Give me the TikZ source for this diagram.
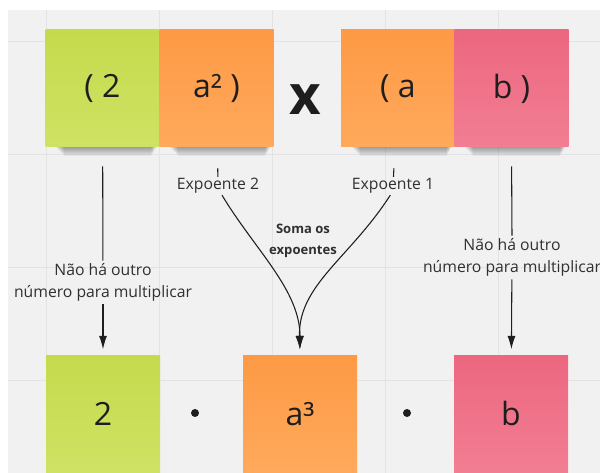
\documentclass[tikz,border=0pt]{standalone}
\usepackage{fontspec}
\setmainfont{Open Sans}
\usetikzlibrary{arrows.meta}
\definecolor{board}{HTML}{F1F1F1}
\definecolor{gridline}{HTML}{E3E3E3}
\definecolor{ink}{HTML}{1E1E1E}
\definecolor{labelink}{HTML}{303030}
\definecolor{greenA}{HTML}{C5DB4C}
\definecolor{greenB}{HTML}{CFE264}
\definecolor{orangeA}{HTML}{FD9A45}
\definecolor{orangeB}{HTML}{FFA95C}
\definecolor{pinkA}{HTML}{EC6780}
\definecolor{pinkB}{HTML}{F27E93}
\tikzset{
  note/.style={minimum width=85.5pt, minimum height=87.75pt, inner sep=0pt,
    text=ink, font=\fontsize{24}{28}\selectfont},
  greennote/.style={note, top color=greenA, bottom color=greenB},
  orangenote/.style={note, top color=orangeA, bottom color=orangeB},
  pinknote/.style={note, top color=pinkA, bottom color=pinkB},
  lbl/.style={align=center, text=labelink, inner sep=2pt,
    font=\fontsize{11.8}{16.5}\selectfont},
  link/.style={line width=0.8pt, ink},
  arrow/.style={link, -{Latex[length=10pt,width=6pt]}},
  dot/.style={circle, fill=ink, minimum size=6pt, inner sep=0pt}
}

\begin{document}
\begin{tikzpicture}[x=0.75pt,y=-0.75pt]
  \useasboundingbox (0,0) rectangle (600,473);
  \fill[white] (0,0) rectangle (600,473);
  \fill[board] (8,10) rectangle (600,473);
  \foreach \gx in {46,159,272,385,498}
    \draw[gridline, line width=0.75pt] (\gx,10) -- (\gx,473);
  \foreach \gy in {42,155,268,381}
    \draw[gridline, line width=0.75pt] (8,\gy) -- (600,\gy);

  \node[greennote] (n2) at (102.5,88.5) {( 2};
  \node[orangenote] (na2) at (216.5,88.5) {a² )};
  \node[text=ink, font=\fontsize{41}{41}\bfseries] (times) at (305,100) {x};
  \node[orangenote] (na) at (398,88.5) {( a};
  \node[pinknote] (nb) at (511.5,88.5) {b )};
  \foreach \n in {n2,na2,na,nb}
    \foreach \k in {1,...,9}
      \fill[black, opacity=0.045] ([shift={(10+\k,0)}]\n.south west) rectangle ([shift={(-3-0.6*\k,\k)}]\n.south east);

  \node[greennote] (r2) at (103,414) {2};
  \node[orangenote] (ra3) at (300,414) {a³};
  \node[pinknote] (rb) at (511,414) {b};
  \node[dot] (d1) at (195,413) {};
  \node[dot] (d2) at (407,413) {};

  \node[lbl] (lblL) at (103,282.5) {Não há outro\\número para multiplicar};
  \node[lbl] (lblR) at (512,257.5) {Não há outro\\número para multiplicar};
  \node[lbl, inner sep=1pt] (exp2) at (218,186) {Expoente 2};
  \node[lbl, inner sep=1pt] (exp1) at (393,186) {Expoente 1};
  \node[lbl, font=\fontsize{9.8}{15.75}\bfseries] (soma) at (303,240.5) {Soma os\\expoentes};

  \draw[link, shorten <=14.25pt] (n2) -- (lblL);
  \draw[arrow, shorten >=4.5pt] (lblL) -- (r2);
  \draw[link, shorten <=14.25pt] (nb.south) -- (lblR.north);
  \draw[arrow, shorten >=4.5pt] (lblR) -- (rb);
  \draw[link, shorten <=15.75pt] (na2) -- (exp2);
  \draw[link, shorten <=15.75pt] (na) -- (exp1);
  \draw[arrow, shorten >=4.5pt] ([xshift=3pt]exp2.south) .. controls (255,250) and (300,290) .. (ra3.north);
  \draw[arrow, shorten >=4.5pt] ([xshift=-2pt]exp1.south) .. controls (350,258) and (298,285) .. (ra3.north);
\end{tikzpicture}
\end{document}
